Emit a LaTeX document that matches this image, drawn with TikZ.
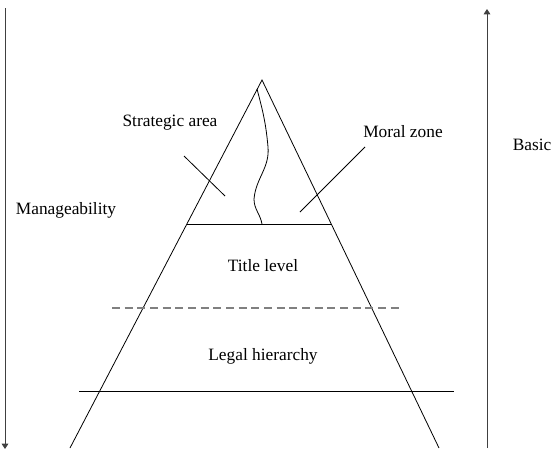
\documentclass[tikz,border=0pt]{standalone}
\usepackage{fontspec}
\setmainfont{Liberation Serif}
\usetikzlibrary{arrows.meta}
\begin{document}
\begin{tikzpicture}[x=0.75pt,y=-0.75pt,
  lbl/.style={font=\fontsize{13}{15}\selectfont, inner sep=0pt, text=black},
  ln/.style={line width=0.6pt, black},
  axis/.style={line width=0.7pt, draw=black!75, -{Triangle[length=4pt,width=5pt]}},
  dsh/.style={line width=0.8pt, draw=black!50, dash pattern=on 6pt off 3.5pt}]
\useasboundingbox (0,0) rectangle (560,450);
% axes
\coordinate (lt) at (5,8);
\coordinate (lb) at (5,449);
\coordinate (rt) at (487,9);
\coordinate (rb) at (487,448);
\draw[axis] (lt) -- (lb);
\draw[axis] (rb) -- (rt);
% pyramid
\coordinate (apex) at (262,80);
\coordinate (bl) at (70,448);
\coordinate (br) at (439,448);
\draw[ln] (bl) -- (apex) -- (br);
% levels
\coordinate (t1) at (187,224);
\coordinate (t2) at (331,224);
\draw[ln] (t1) -- (t2);
\coordinate (d1) at (112,308);
\coordinate (d2) at (399,308);
\draw[dsh] (d1) -- (d2);
\coordinate (s1) at (79,391);
\coordinate (s2) at (454,391);
\draw[ln] (s1) -- (s2);
% wavy divider
\coordinate (w0) at (257,89);
\coordinate (w1) at (262,224);
\draw[ln] (w0) to[out=-75,in=95] (268,147) to[out=-85,in=85] (254,199) to[out=-90,in=100] (w1);
% labels
\node[lbl] (strat) at (170,123) {Strategic area};
\node[lbl] (moral) at (403,132) {Moral zone};
\node[lbl] (basic) at (532,145) {Basic};
\node[lbl] (manage) at (66,210) {Manageability};
\node[lbl] (title) at (263,266) {Title level};
\node[lbl] (legal) at (263,356) {Legal hierarchy};
% leaders
\coordinate (sa) at (184,156);
\coordinate (sb) at (225,196);
\draw[ln] (sa) -- (sb);
\coordinate (ma) at (365,147);
\coordinate (mb) at (300,212);
\draw[ln] (ma) -- (mb);
\end{tikzpicture}
\end{document}
